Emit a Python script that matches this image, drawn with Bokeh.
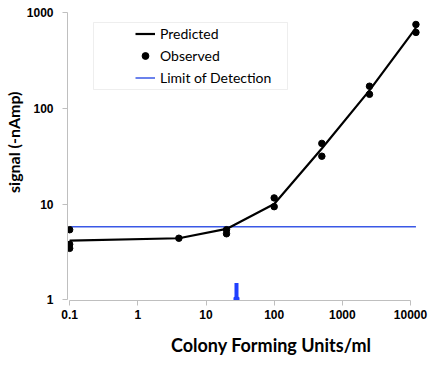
from bokeh.plotting import figure
from bokeh.models import Range1d, FixedTicker, Legend, LegendItem, BoxAnnotation, Title
from bokeh.embed import file_html
from bokeh.resources import INLINE

# ---- data ----
obs_cfu = [0.1, 0.1, 0.1, 4, 20, 20, 100, 100, 500, 500, 2500, 2500, 12000, 12000]
obs_signal = [5.4, 3.8, 3.45, 4.4, 5.4, 4.9, 11.6, 9.4, 43, 31.6, 170, 140, 750, 620]

pred_cfu = [0.1, 4, 20, 100, 500, 2500, 12000]
pred_signal = [4.15, 4.4, 5.5, 10, 38, 154, 690]

lod_cfu = [0.1, 12000]
lod_signal = [5.8, 5.8]

lod_marker_cfu = [28]
lod_marker_bottom = [1.0]
lod_marker_top = [1.5]

x_ticks = [0.1, 1, 10, 100, 1000, 10000]
x_tick_labels = ["0.1", "1", "10", "100", "1000", "10000"]
y_ticks = [1, 10, 100, 1000]
y_tick_labels = ["1", "10", "100", "1000"]

# ---- figure ----
p = figure(width=428, height=365, x_axis_type="log", y_axis_type="log",
           x_range=Range1d(0.093, 14000), y_range=Range1d(0.985, 1000),
           output_backend="svg", toolbar_location=None,
           min_border_left=65, min_border_right=8, min_border_top=12, min_border_bottom=64)
p.grid.visible = False
p.outline_line_color = None
p.background_fill_color = "white"

for ax in (p.xaxis[0], p.yaxis[0]):
    ax.axis_line_color = "#bfbfbf"
    ax.axis_line_width = 1
    ax.major_tick_line_color = "#bfbfbf"
    ax.major_tick_out = 5
    ax.major_tick_in = 0
    ax.minor_tick_line_color = None
    ax.major_label_text_font = "Liberation Sans"
    ax.major_label_text_font_style = "bold"
    ax.major_label_text_font_size = "12px"
    ax.major_label_text_color = "black"

p.xaxis.ticker = FixedTicker(ticks=x_ticks)
p.xaxis.major_label_overrides = dict(zip(x_ticks, x_tick_labels))
p.xaxis.bounds = (x_ticks[0], x_ticks[-1])
p.xaxis.major_label_standoff = 4

p.yaxis.ticker = FixedTicker(ticks=y_ticks)
p.yaxis.major_label_overrides = dict(zip(y_ticks, y_tick_labels))
p.yaxis.bounds = (y_ticks[0], y_ticks[-1])
p.yaxis.major_label_standoff = 9

lod = p.line(lod_cfu, lod_signal, line_color="#3a58e6", line_width=1.5)
pred = p.line(pred_cfu, pred_signal, line_color="black", line_width=2.2)
obs = p.scatter(obs_cfu, obs_signal, size=6.5, color="black")
p.segment(x0=lod_marker_cfu, y0=lod_marker_bottom, x1=lod_marker_cfu, y1=lod_marker_top,
          line_color="#2040ff", line_width=4)
p.scatter(lod_marker_cfu, lod_marker_bottom, marker="square", size=5, color="#2040ff")

box = BoxAnnotation(left=26, right=220, bottom=211, top=278,
                    left_units="screen", right_units="screen",
                    top_units="screen", bottom_units="screen",
                    fill_color="white", fill_alpha=1, line_color="#c8c8c8", line_width=1)
p.add_layout(box)

legend = Legend(items=[LegendItem(label="Predicted", renderers=[pred]),
                       LegendItem(label="Observed", renderers=[obs]),
                       LegendItem(label="Limit of Detection", renderers=[lod])],
                location=(64, 210), padding=4, spacing=5, label_height=17,
                glyph_height=17, glyph_width=20, label_standoff=5,
                label_text_font="Lato", label_text_font_size="14px",
                label_text_color="black",
                border_line_alpha=0, background_fill_alpha=0)
p.add_layout(legend)

xtitle = Title(text="Colony Forming Units/ml", align="right", offset=49, standoff=20,
               text_font="Lato", text_font_style="bold", text_font_size="18px",
               text_color="black")
ytitle = Title(text="signal (-nAmp)", align="right", offset=79, standoff=2,
               text_font="Lato", text_font_style="bold", text_font_size="16px",
               text_color="black")
p.add_layout(xtitle, "below")
p.add_layout(ytitle, "left")

open("out.html", "w").write(file_html(p, INLINE))
